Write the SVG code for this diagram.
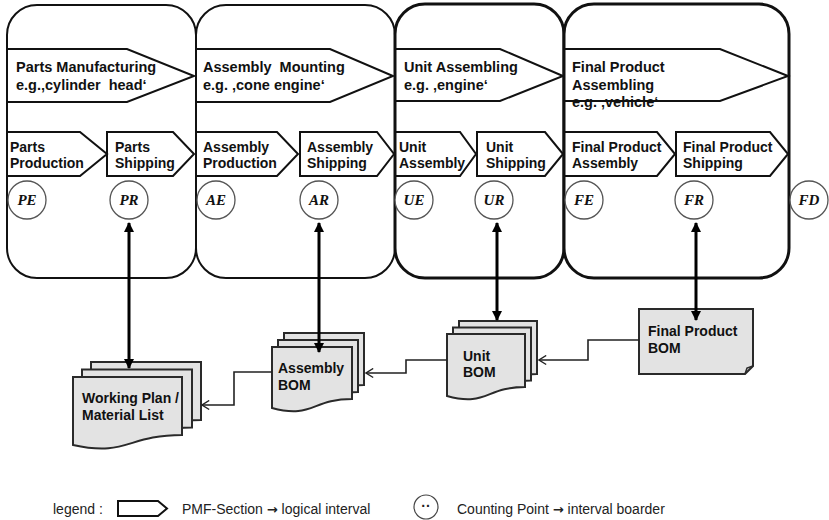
<svg xmlns="http://www.w3.org/2000/svg" width="829" height="520" viewBox="0 0 829 520">
<style>
.box{fill:#fff;stroke:#111;stroke-width:2}
.boxb{fill:#fff;stroke:#111;stroke-width:3}
.pent{fill:none;stroke:#111;stroke-width:2;stroke-linejoin:miter}
.t1{font-family:"Liberation Sans",Arial,sans-serif;font-weight:bold;font-size:14.5px;fill:#111}
.t2{font-family:"Liberation Sans",Arial,sans-serif;font-weight:bold;font-size:14px;fill:#111}
.cp{fill:#fff;stroke:#555;stroke-width:1.3}
.cpt{font-family:"Liberation Serif","DejaVu Serif",serif;font-style:italic;font-weight:bold;font-size:15px;fill:#111;text-anchor:middle}
.doc{fill:#e3e3e3;stroke:#2a2a2a;stroke-width:2;stroke-linejoin:miter}
.thick{fill:none;stroke:#000;stroke-width:3}
.thin{fill:none;stroke:#222;stroke-width:1.6}
.lg{font-family:"Liberation Sans",Arial,sans-serif;font-size:14px;fill:#222}
.ar{font-family:"DejaVu Sans",sans-serif;font-weight:bold;font-size:13px}
</style>
<defs>
<marker id="ah" viewBox="0 0 10 10" refX="9" refY="5" markerWidth="10" markerHeight="10" markerUnits="userSpaceOnUse" orient="auto-start-reverse">
<path d="M0,0 L10,5 L0,10 Z" fill="#000"/>
</marker>
<marker id="oa" viewBox="0 0 10 12" refX="9" refY="6" markerWidth="9" markerHeight="11" markerUnits="userSpaceOnUse" orient="auto">
<path d="M1,1 L9,6 L1,11" fill="none" stroke="#222" stroke-width="1.6"/>
</marker>
</defs>

<g id="section-parts">
<rect class="box" x="7" y="5" width="189" height="273" rx="30"/>
<polygon class="pent" points="7,49 127,49 194,76 127,102 7,102"/>
<text class="t1" x="16" y="72">Parts Manufacturing</text>
<text class="t1" x="16" y="90" xml:space="preserve">e.g.‚cylinder  head‘</text>
</g>
<g id="section-assembly">
<rect class="box" x="196" y="5" width="199" height="273" rx="30"/>
<polygon class="pent" points="196,49 330,49 393,76 330,102 196,102"/>
<text class="t1" x="203" y="72" xml:space="preserve">Assembly  Mounting</text>
<text class="t1" x="203" y="90">e.g. ‚cone engine‘</text>
</g>
<g id="section-unit">
<rect class="boxb" x="395" y="4" width="169" height="274" rx="30"/>
<polygon class="pent" points="395,49 500,49 563,76 500,101 395,101"/>
<text class="t1" x="404" y="72">Unit Assembling</text>
<text class="t1" x="404" y="90">e.g. ‚engine‘</text>
</g>
<g id="section-final">
<rect class="boxb" x="564" y="4" width="225" height="274" rx="30"/>
<polygon class="pent" points="564,49 720,49 788,76 720,101 564,101"/>
<text class="t1" x="572" y="72">Final Product</text>
<text class="t1" x="572" y="90">Assembling</text>
<text class="t1" x="572" y="107">e.g. ‚vehicle‘</text>
</g>

<g id="parts-production">
<polygon class="pent" points="7,132 80,132 107,154 80,176 7,176"/>
<text class="t2" x="10" y="152">Parts</text>
<text class="t2" x="10" y="168">Production</text>
</g>
<g id="parts-shipping">
<polygon class="pent" points="107,132 173,132 194,154 173,176 107,176"/>
<text class="t2" x="115" y="152">Parts</text>
<text class="t2" x="115" y="168">Shipping</text>
</g>
<g id="assembly-production">
<polygon class="pent" points="196,132 277,132 298,154 277,176 196,176"/>
<text class="t2" x="203" y="152">Assembly</text>
<text class="t2" x="203" y="168">Production</text>
</g>
<g id="assembly-shipping">
<polygon class="pent" points="300,132 377,132 394,154 377,176 300,176"/>
<text class="t2" x="307" y="152">Assembly</text>
<text class="t2" x="307" y="168">Shipping</text>
</g>
<g id="unit-assembly">
<polygon class="pent" points="395,132 460,132 476,154 460,176 395,176"/>
<text class="t2" x="399" y="152">Unit</text>
<text class="t2" x="399" y="168">Assembly</text>
</g>
<g id="unit-shipping">
<polygon class="pent" points="477,132 545,132 563,154 545,176 477,176"/>
<text class="t2" x="486" y="152">Unit</text>
<text class="t2" x="486" y="168">Shipping</text>
</g>
<g id="final-assembly">
<polygon class="pent" points="564,132 657,132 675,154 657,176 564,176"/>
<text class="t2" x="572" y="152">Final Product</text>
<text class="t2" x="572" y="168">Assembly</text>
</g>
<g id="final-shipping">
<polygon class="pent" points="676,132 770,132 788,154 770,176 676,176"/>
<text class="t2" x="683" y="152">Final Product</text>
<text class="t2" x="683" y="168">Shipping</text>
</g>

<g id="cp-PE"><circle class="cp" cx="27" cy="200" r="19"/><text class="cpt" x="27" y="205">PE</text></g>
<g id="cp-PR"><circle class="cp" cx="129" cy="200" r="19"/><text class="cpt" x="129" y="205">PR</text></g>
<g id="cp-AE"><circle class="cp" cx="216" cy="200" r="19"/><text class="cpt" x="216" y="205">AE</text></g>
<g id="cp-AR"><circle class="cp" cx="319" cy="200" r="19"/><text class="cpt" x="319" y="205">AR</text></g>
<g id="cp-UE"><circle class="cp" cx="414" cy="200" r="19"/><text class="cpt" x="414" y="205">UE</text></g>
<g id="cp-UR"><circle class="cp" cx="494" cy="200" r="19"/><text class="cpt" x="494" y="205">UR</text></g>
<g id="cp-FE"><circle class="cp" cx="584" cy="200" r="19"/><text class="cpt" x="584" y="205">FE</text></g>
<g id="cp-FR"><circle class="cp" cx="694" cy="200" r="19"/><text class="cpt" x="694" y="205">FR</text></g>
<g id="cp-FD"><circle class="cp" cx="809" cy="200" r="19"/><text class="cpt" x="809" y="205">FD</text></g>

<g id="doc-working-plan">
<path class="doc" d="M91,362 H201 V420 C146,420 146,442 91,430 Z"/>
<path class="doc" d="M82,369.5 H192 V427.5 C137,427.5 137,450 82,437.5 Z"/>
<path class="doc" d="M73,377 H182 V435 C127,435 127,457 73,445 Z"/>
<text class="t2" x="82" y="403">Working Plan /</text>
<text class="t2" x="82" y="420">Material List</text>
</g>
<g id="doc-assembly-bom">
<path class="doc" d="M284,333 H364 V385 C324,385 324,405 284,394 Z"/>
<path class="doc" d="M278,340 H358 V392 C318,392 318,412 278,401 Z"/>
<path class="doc" d="M272,347 H352 V399 C312,399 312,419 272,408 Z"/>
<text class="t2" x="278" y="373">Assembly</text>
<text class="t2" x="278" y="390">BOM</text>
</g>
<g id="doc-unit-bom">
<path class="doc" d="M459,321 H537 V374 C498,374 498,394 459,383 Z"/>
<path class="doc" d="M453,327.5 H531 V380.5 C492,380.5 492,400.5 453,389.5 Z"/>
<path class="doc" d="M447,334 H525 V387 C486,387 486,407 447,396 Z"/>
<text class="t2" x="463" y="361">Unit</text>
<text class="t2" x="463" y="377">BOM</text>
</g>
<g id="doc-final-bom">
<path class="doc" d="M639,309 H753 V366 L745,374 H639 Z"/>
<path d="M745,374 L747,368 L753,366" fill="none" stroke="#2a2a2a" stroke-width="1.5"/>
<text class="t2" x="648" y="336">Final Product</text>
<text class="t2" x="648" y="353">BOM</text>
</g>

<g id="connectors">
<line class="thick" x1="129" y1="223" x2="129" y2="368" marker-start="url(#ah)" marker-end="url(#ah)"/>
<line class="thick" x1="319" y1="223" x2="319" y2="352" marker-start="url(#ah)" marker-end="url(#ah)"/>
<line class="thick" x1="497" y1="223" x2="497" y2="320" marker-start="url(#ah)" marker-end="url(#ah)"/>
<line class="thick" x1="696" y1="223" x2="696" y2="320" marker-start="url(#ah)" marker-end="url(#ah)"/>
<path class="thin" d="M639,340 H588 V360 H539" marker-end="url(#oa)"/>
<path class="thin" d="M447,360 H406 V373 H366" marker-end="url(#oa)"/>
<path class="thin" d="M272,372 H234 V405 H202" marker-end="url(#oa)"/>
</g>

<g id="legend">
<text class="lg" x="53" y="514">legend :</text>
<polygon points="118,501 158,501 167,508.5 158,516 118,516" fill="#fff" stroke="#111" stroke-width="2"/>
<text class="lg" x="182" y="514">PMF-Section <tspan class="ar">→</tspan> logical interval</text>
<circle cx="426" cy="507" r="12" fill="#fff" stroke="#444" stroke-width="1.2"/>
<text class="lg" x="426" y="511" text-anchor="middle" style="font-size:14px;font-weight:bold">··</text>
<text class="lg" x="457" y="514">Counting Point <tspan class="ar">→</tspan> interval boarder</text>
</g>
</svg>
